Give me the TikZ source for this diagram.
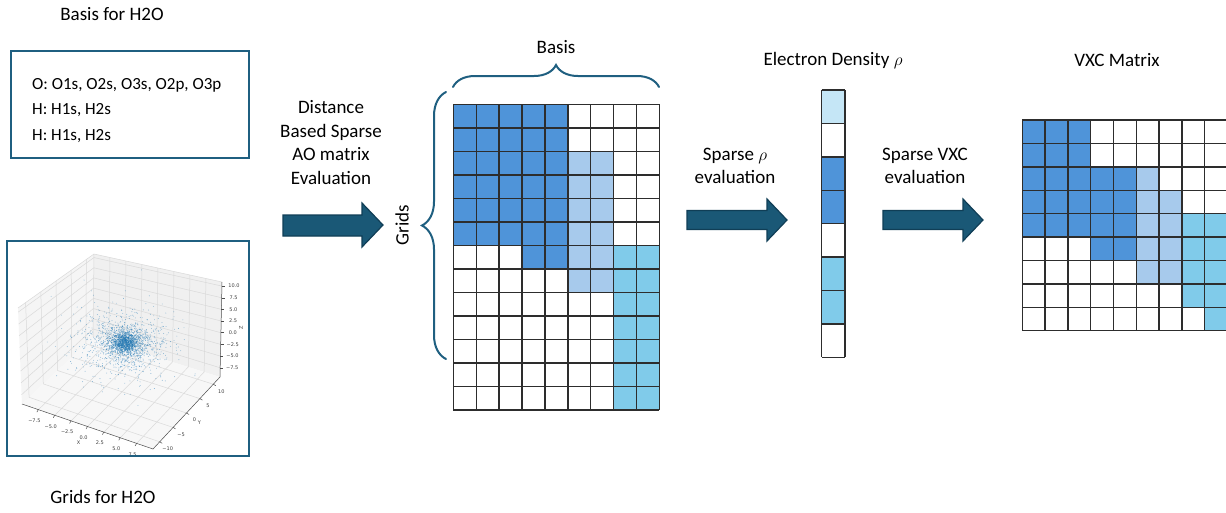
\documentclass[tikz,border=0pt]{standalone}
\usepackage{fontspec}
\setmainfont{Carlito}
\newfontfamily\tickfont{DejaVu Sans}
\usetikzlibrary{decorations.pathreplacing,calc}

\definecolor{frame}{RGB}{31,95,128}
\definecolor{arrowfill}{RGB}{26,88,118}
\definecolor{arrowline}{RGB}{16,62,86}
\definecolor{cD}{RGB}{79,148,217}
\definecolor{cL}{RGB}{167,202,236}
\definecolor{cC}{RGB}{128,203,234}
\definecolor{cV}{RGB}{197,230,246}
\definecolor{cW}{RGB}{255,255,255}
\definecolor{cellline}{RGB}{45,45,45}
\definecolor{dot}{RGB}{31,119,180}

\tikzset{
  lbl/.style={font=\fontsize{19}{23.7}\selectfont, inner sep=0pt, align=center},
  boxtext/.style={font=\fontsize{17}{25.5}\selectfont, inner sep=0pt, align=left},
  framebox/.style={draw=frame, line width=2pt, fill=white},
  blockarrow/.style={fill=arrowfill, draw=arrowline, line width=1.2pt, line join=miter},
  bracestyle/.style={draw=frame, line width=2pt, line cap=round, decorate},
  cellgrid/.style={draw=cellline, line width=1.4pt},
  gline/.style={draw=black!15, line width=0.5pt},
  axline/.style={draw=black!70, line width=0.5pt},
  ticklbl/.style={font=\tickfont\fontsize{5}{6}\selectfont, inner sep=0pt, text=black!75},
}

\begin{document}
\begin{tikzpicture}[x=1pt,y=-1pt]
\useasboundingbox (0,0) rectangle (1226,512);

% ---------- left column ----------
\node[lbl] (basistitle) at (112,14) {Basis for H2O};
\draw[framebox] (11,51) rectangle (249,158);
\node[boxtext, anchor=west] (basistext) at (32,110.5) {O: O1s, O2s, O3s, O2p, O3p\\H: H1s, H2s\\H: H1s, H2s};

\draw[framebox] (7,241) rectangle (249,456);
\node[lbl] (gridstitle) at (103,497) {Grids for H2O};

% ---------- 3D scatter plot ----------
\coordinate (Lb) at (22,404);
\coordinate (Bb) at (93,337);
\coordinate (Bt) at (94,254);
\coordinate (Lt) at (18,308);
\coordinate (Rb) at (220,377);
\coordinate (Rt) at (222,282);
\coordinate (F)  at (153,449);
\fill[black!4] (Lb) -- (Bb) -- (Bt) -- (Lt) -- cycle;
\fill[black!6] (Bb) -- (Rb) -- (Rt) -- (Bt) -- cycle;
\fill[black!3] (Lb) -- (Bb) -- (Rb) -- (F) -- cycle;
\foreach \f in {0.1,0.3,0.5,0.7,0.9}{
  \draw[gline] ($(Lb)!\f!(Bb)$) -- ($(Lt)!\f!(Bt)$);
  \draw[gline] ($(Lb)!\f!(Bb)$) -- ($(F)!\f!(Rb)$);
}
\foreach \f in {0.125,0.25,0.375,0.5,0.625,0.75,0.875}{
  \draw[gline] ($(Bb)!\f!(Rb)$) -- ($(Bt)!\f!(Rt)$);
  \draw[gline] ($(Lb)!\f!(F)$) -- ($(Bb)!\f!(Rb)$);
}
\foreach \f in {0.097,0.220,0.343,0.466,0.589,0.712,0.834,0.957}{
  \draw[gline] ($(Lb)!\f!(Lt)$) -- ($(Bb)!\f!(Bt)$) -- ($(Rb)!\f!(Rt)$);
}
\draw[gline] (Lt) -- (Bt) -- (Rt);
\draw[gline] (Bb) -- (Bt);
\draw[axline] (Lb) -- (F) -- (Rb) -- (Rt);
% ticks and tick labels
\foreach \f/\t in {0.125/−7.5,0.25/−5.0,0.375/−2.5,0.5/0.0,0.625/2.5,0.75/5.0,0.875/7.5}{
  \draw[axline] ($(Lb)!\f!(F)$) -- ++(-1.5,2.5);
  \node[ticklbl] at ($(Lb)!\f!(F)+(-4,11)$) {\t};
}
\node[ticklbl] (xlab) at ($(Lb)!0.5!(F)+(-9,16)$) {X};
\foreach \f/\t in {0.1/−10,0.3/−5,0.5/0,0.7/5,0.9/10}{
  \draw[axline] ($(F)!\f!(Rb)$) -- ++(2.5,1.5);
  \node[ticklbl] at ($(F)!\f!(Rb)+(8,7)$) {\t};
}
\node[ticklbl] (ylab) at ($(F)!0.5!(Rb)+(13,10)$) {Y};
\foreach \f/\t in {0.097/−7.5,0.220/−5.0,0.343/−2.5,0.466/0.0,0.589/2.5,0.712/5.0,0.834/7.5,0.957/10.0}{
  \draw[axline] ($(Rb)!\f!(Rt)$) -- ++(3,0);
  \node[ticklbl] at ($(Rb)!\f!(Rt)+(12,0)$) {\t};
}
\node[ticklbl, rotate=90] (zlab) at (241,328) {Z};
% points
\pgfmathsetseed{7}
\foreach \s/\sx/\sy/\n in {a/6/5/900, b/13/10/900, c/26/20/700}{
  \foreach \i in {1,...,\n}{
    \pgfmathsetmacro\rr{sqrt(-2*ln(max(rnd,0.001)))}
    \pgfmathsetmacro\aa{360*rnd}
    \fill[dot, opacity=0.55] ({125+\sx*\rr*cos(\aa)},{343+\sy*\rr*sin(\aa)}) circle (0.45);
  }
}
\draw[draw=frame, line width=2pt] (7,241) rectangle (249,456);

% ---------- arrow 1 + label ----------
\node[lbl] (aolbl) at (331,142.5) {Distance\\Based Sparse\\AO matrix\\Evaluation};
\draw[blockarrow] (283,215) -- (362,215) -- (362,203) -- (383,225) -- (362,247) -- (362,236) -- (283,236) -- cycle;

% ---------- AO matrix ----------
\node[lbl] (basislbl) at (556,47) {Basis};
\node[lbl, rotate=90] (gridslbl) at (402,225) {Grids};
\draw[bracestyle, decoration={brace, amplitude=22pt}] (453,87) -- (659,87);
\draw[bracestyle, decoration={brace, amplitude=24pt}] (446,359) -- (446,92);
\begin{scope}[shift={(453.3,104.3)}]
\foreach \row [count=\r from 0] in {
  {D,D,D,D,D,W,W,W,W},{D,D,D,D,D,W,W,W,W},
  {D,D,D,D,D,L,L,W,W},{D,D,D,D,D,L,L,W,W},{D,D,D,D,D,L,L,W,W},{D,D,D,D,D,L,L,W,W},
  {W,W,W,D,D,L,L,C,C},{W,W,W,W,W,L,L,C,C},
  {W,W,W,W,W,W,W,C,C},{W,W,W,W,W,W,W,C,C},{W,W,W,W,W,W,W,C,C},{W,W,W,W,W,W,W,C,C},{W,W,W,W,W,W,W,C,C}}{
  \foreach \c [count=\k from 0] in \row {
    \fill[c\c] ({\k*22.9},{\r*23.5}) rectangle ++(22.9,23.5);
  }
}
\foreach \k in {0,...,9} \draw[cellgrid] ({\k*22.9},0) -- ({\k*22.9},305.5);
\foreach \r in {0,...,13} \draw[cellgrid] (0,{\r*23.5}) -- (206.1,{\r*23.5});
\end{scope}

% ---------- arrow 2 ----------
\node[lbl] (rholbl) at (735,166) {Sparse $\rho$\\evaluation};
\draw[blockarrow] (687,210.5) -- (767,210.5) -- (767,199) -- (787,220) -- (767,241) -- (767,229.5) -- (687,229.5) -- cycle;

% ---------- density vector ----------
\node[lbl] (denslbl) at (833,61) {Electron Density $\rho$};
\begin{scope}[shift={(821.7,90)}]
\foreach \c [count=\r from 0] in {V,W,D,D,W,C,C,W}{
  \fill[c\c] (0,{\r*33.4}) rectangle ++(23.3,33.4);
}
\foreach \r in {0,...,8} \draw[cellgrid] (0,{\r*33.4}) -- (23.3,{\r*33.4});
\draw[cellgrid] (0,0) -- (0,267.2) (23.3,0) -- (23.3,267.2);
\end{scope}

% ---------- arrow 3 ----------
\node[lbl] (vxclbl) at (925,166) {Sparse VXC\\evaluation};
\draw[blockarrow] (883,210.5) -- (963,210.5) -- (963,199) -- (983,220) -- (963,241) -- (963,229.5) -- (883,229.5) -- cycle;

% ---------- VXC matrix ----------
\node[lbl] (vxctitle) at (1117,60) {VXC Matrix};
\begin{scope}[shift={(1022.3,120)}]
\foreach \row [count=\r from 0] in {
  {D,D,D,W,W,W,W,W,W},{D,D,D,W,W,W,W,W,W},
  {D,D,D,D,D,L,W,W,W},{D,D,D,D,D,L,L,W,W},{D,D,D,D,D,L,L,C,C},
  {W,W,W,D,D,L,L,C,C},{W,W,W,W,W,L,L,C,C},{W,W,W,W,W,W,W,C,C},{W,W,W,W,W,W,W,W,C}}{
  \foreach \c [count=\k from 0] in \row {
    \fill[c\c] ({\k*22.8},{\r*23.4}) rectangle ++(22.8,23.4);
  }
}
\foreach \k in {0,...,9} \draw[cellgrid] ({\k*22.8},0) -- ({\k*22.8},210.6);
\foreach \r in {0,...,9} \draw[cellgrid] (0,{\r*23.4}) -- (205.2,{\r*23.4});
\end{scope}
\end{tikzpicture}
\end{document}
